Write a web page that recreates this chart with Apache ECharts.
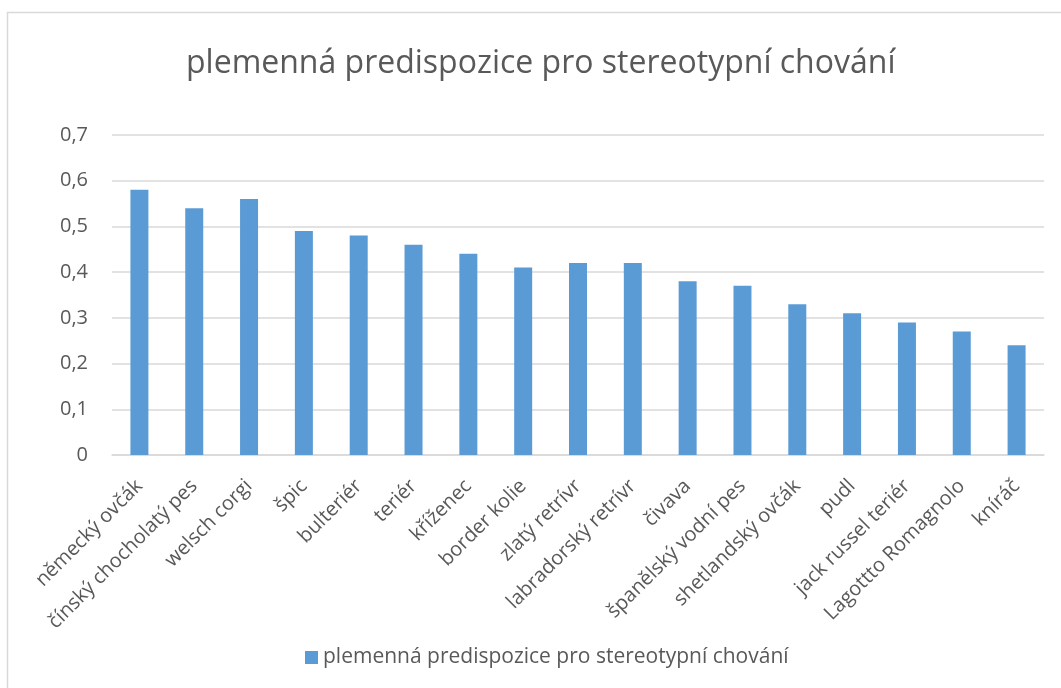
<!DOCTYPE html>
<html>
<head>
<meta charset="utf-8">
<script src="https://cdn.jsdelivr.net/npm/echarts@6/dist/echarts.min.js"></script>
<style>
html,body{margin:0;padding:0;background:#fff;}
#c{width:1061px;height:688px;}
</style>
</head>
<body>
<div id="c"></div>
<script>
const title = 'plemenná predispozice pro stereotypní chování';
const seriesName = 'plemenná predispozice pro stereotypní chování';
const categories = ['německý ovčák','čínský chocholatý pes','welsch corgi','špic','bulteriér','teriér','kříženec','border kolie','zlatý retrívr','labradorský retrívr','čivava','španělský vodní pes','shetlandský ovčák','pudl','jack russel teriér','Lagottto Romagnolo','kníráč'];
const values = [0.58,0.54,0.56,0.49,0.48,0.46,0.44,0.41,0.42,0.42,0.38,0.37,0.33,0.31,0.29,0.27,0.24];
const yTicks = [0,0.1,0.2,0.3,0.4,0.5,0.6,0.7];

const font = '"Open Sans", "Noto Sans", sans-serif';
const chart = echarts.init(document.getElementById('c'));
chart.setOption({
  animation: false,
  backgroundColor: '#fff',
  graphic: [{
    type: 'rect',
    shape: {x: 7.5, y: 12.5, width: 1100, height: 700},
    style: {fill: 'none', stroke: '#d9d9d9', lineWidth: 1.5},
    silent: true
  }],
  title: {
    text: title,
    left: 181,
    top: 43,
    textStyle: {fontFamily: font, fontSize: 32, fontWeight: 'normal', color: '#595959'}
  },
  legend: {
    bottom: 15,
    left: 300,
    itemWidth: 13,
    itemHeight: 13,
    itemGap: 6,
    icon: 'rect',
    textStyle: {fontFamily: font, fontSize: 21, color: '#595959'},
    data: [seriesName]
  },
  grid: {left: 112, right: 17, top: 135, bottom: 233, containLabel: false},
  xAxis: {
    type: 'category',
    data: categories,
    axisLine: {lineStyle: {color: '#d9d9d9', width: 1.5}},
    axisTick: {show: false},
    axisLabel: {
      interval: 0,
      rotate: 45,
      margin: 28,
      fontFamily: font,
      fontSize: 20,
      color: '#595959'
    }
  },
  yAxis: {
    type: 'value',
    min: 0,
    max: 0.7,
    interval: 0.1,
    axisLine: {show: false},
    axisTick: {show: false},
    splitLine: {lineStyle: {color: '#d9d9d9', width: 1.5}},
    axisLabel: {
      margin: 24,
      fontFamily: font,
      fontSize: 20,
      color: '#595959',
      formatter: v => {
        const t = yTicks.find(x => Math.abs(x - v) < 1e-9);
        return (t === undefined ? v : t).toString().replace('.', ',');
      }
    }
  },
  series: [{
    name: seriesName,
    type: 'bar',
    data: values,
    barWidth: 18,
    itemStyle: {color: '#5b9bd5'}
  }]
});
</script>
</body>
</html>
